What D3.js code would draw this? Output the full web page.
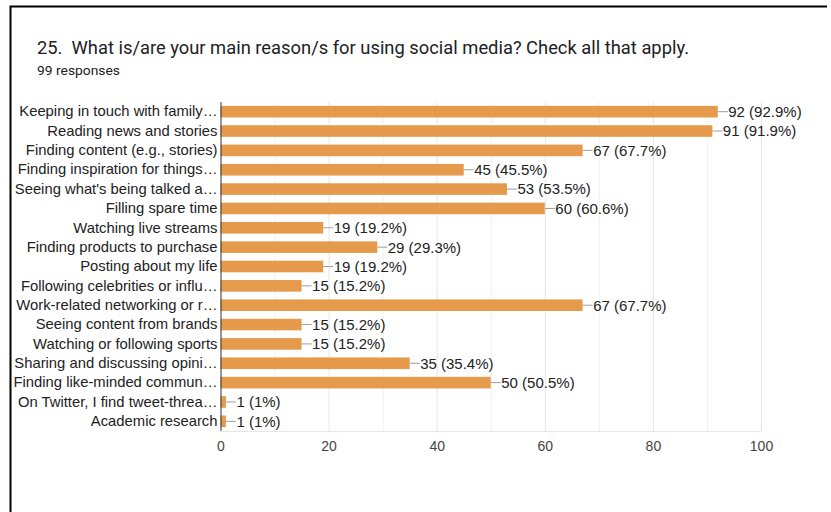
<!DOCTYPE html>
<html><head><meta charset="utf-8">
<script src="https://cdn.jsdelivr.net/npm/d3@7"></script>
<style>body{margin:0;background:#fff;} svg{display:block;}</style>
</head><body>
<svg id="c" width="831" height="512"></svg>
<script>
const categories = ["Keeping in touch with family…","Reading news and stories","Finding content (e.g., stories)","Finding inspiration for things…","Seeing what's being talked a…","Filling spare time","Watching live streams","Finding products to purchase","Posting about my life","Following celebrities or influ…","Work-related networking or r…","Seeing content from brands","Watching or following sports","Sharing and discussing opini…","Finding like-minded commun…","On Twitter, I find tweet-threa…","Academic research"];
const counts = [92,91,67,45,53,60,19,29,19,15,67,15,15,35,50,1,1];
const percents = ["92.9%","91.9%","67.7%","45.5%","53.5%","60.6%","19.2%","29.3%","19.2%","15.2%","67.7%","15.2%","15.2%","35.4%","50.5%","1%","1%"];
const xTicks = [0,20,40,60,80,100];
const title = "25.\u00a0\u00a0What is/are your main reason/s for using social media? Check all that apply.";
const subtitle = "99 responses";

const svg = d3.select("#c");
// frame
svg.append("path").attr("d","M10.5,520 L10.5,6.5 L827,6.5").attr("fill","none").attr("stroke","#000").attr("stroke-width",2);

svg.append("text").attr("x",37).attr("y",54).attr("font-family","Roboto, sans-serif").attr("font-size",18.5)
  .attr("fill","#202124").attr("textLength",652).attr("lengthAdjust","spacingAndGlyphs").text(title);
svg.append("text").attr("x",37).attr("y",75).attr("font-family","Roboto, sans-serif").attr("font-size",12.5)
  .attr("fill","#202124").attr("textLength",83).attr("lengthAdjust","spacingAndGlyphs").text(subtitle);

const x = d3.scaleLinear().domain([0,100]).range([220.5,761]);
const y = d3.scaleBand().domain(categories).range([102,431]).paddingInner(0.4).paddingOuter(0.2);

const font = "Liberation Sans, Arial, sans-serif";
// gridlines
svg.append("g").selectAll("line").data(d3.range(10,101,10)).join("line")
  .attr("x1",d=>x(d)+0.5).attr("x2",d=>x(d)+0.5).attr("y1",102).attr("y2",431)
  .attr("stroke",d=>d%20===0?"#e6e6e6":"#f1f1f1").attr("stroke-width",1);
svg.append("line").attr("x1",x(0)).attr("x2",x(100)).attr("y1",431.5).attr("y2",431.5).attr("stroke","#e6e6e6");

// bars
svg.append("g").selectAll("rect").data(counts).join("rect")
  .attr("x",x(0)).attr("y",(d,i)=>y(categories[i]))
  .attr("width",d=>x(d)-x(0)).attr("height",y.bandwidth())
  .attr("fill","#e69a4c");

// leaders and labels
const lab = svg.append("g");
counts.forEach((d,i)=>{
  const cy = y(categories[i]) + y.bandwidth()/2;
  lab.append("line").attr("x1",x(d)).attr("x2",x(d)+10).attr("y1",cy).attr("y2",cy).attr("stroke","#9e9e9e").attr("stroke-width",1);
  lab.append("text").attr("x",x(d)+10.5).attr("y",cy).attr("dy","0.36em").attr("font-family",font).attr("font-size",15)
    .attr("fill","#222").text(`${d} (${percents[i]})`);
});

// y axis
const ya = svg.append("g").attr("transform",`translate(${x(0)},0)`)
  .call(d3.axisLeft(y).tickSize(0).tickPadding(3));
ya.select(".domain").attr("stroke","#333").attr("d","M0.5,102V431");
ya.selectAll("text").attr("font-family",font).attr("font-size",14.8).attr("fill","#222");

// x axis
const xa = svg.append("g").attr("transform","translate(0,431)")
  .call(d3.axisBottom(x).tickValues(xTicks).tickSize(0).tickPadding(10));
xa.select(".domain").remove();
xa.selectAll("text").attr("font-family",font).attr("font-size",14).attr("fill","#444");
</script>
</body></html>
